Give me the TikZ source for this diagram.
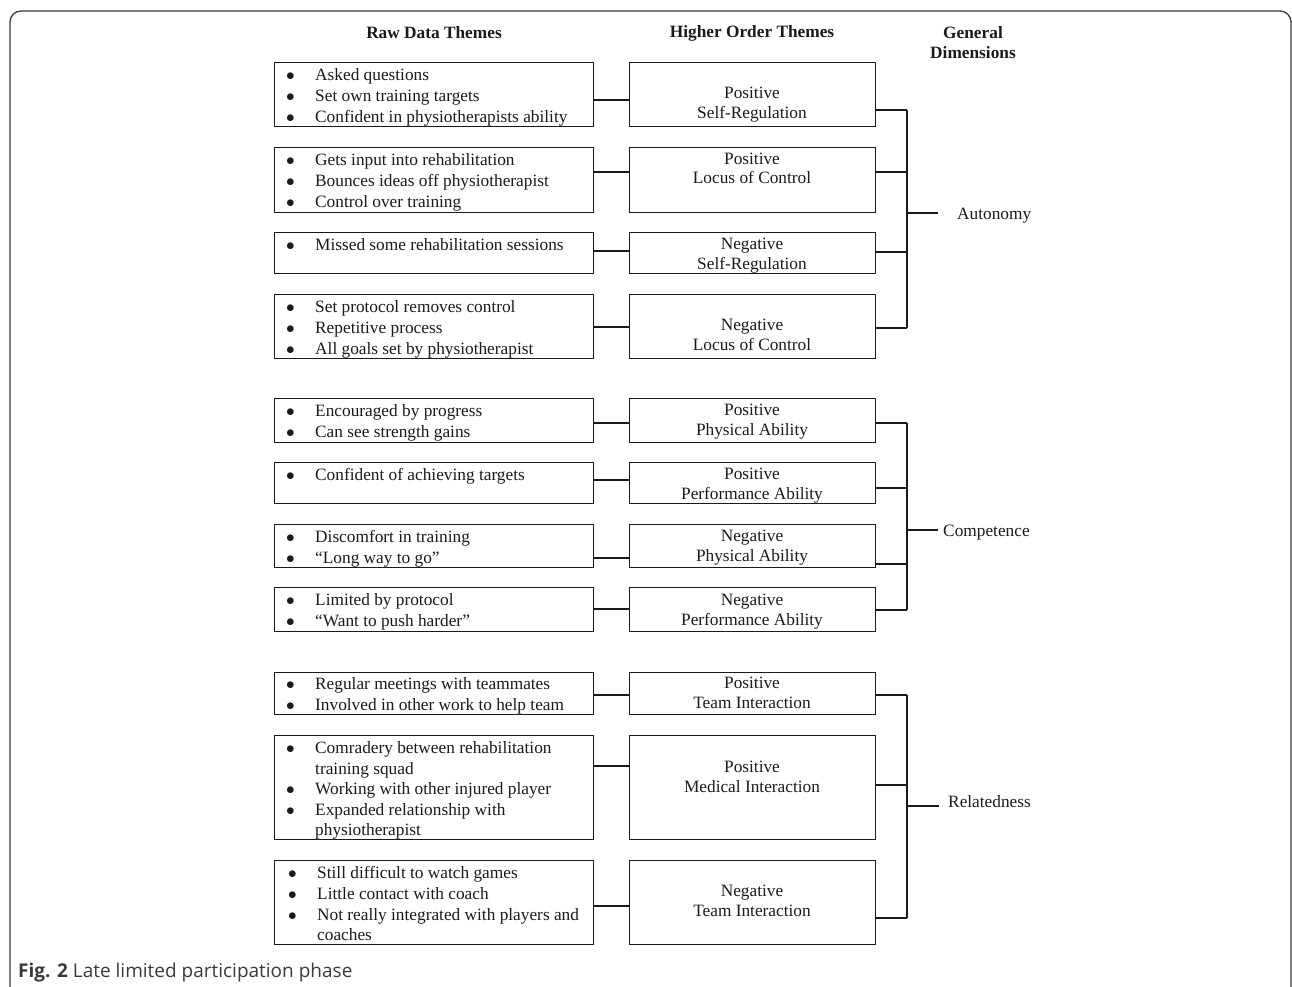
\documentclass[tikz,border=0pt]{standalone}
\usepackage{fontspec}
\setmainfont{Liberation Serif}
\newfontfamily\capfont{Open Sans}
\usepackage{tikz}
\usetikzlibrary{calc}
\definecolor{ink}{HTML}{1A1A1A}
\definecolor{framegray}{HTML}{3A3A3A}
\newcommand{\themefont}{\fontsize{17.3}{21}\selectfont}
\newcommand{\itm}{\makebox[29pt][l]{$\bullet$}}
\newcommand{\cnt}{\hspace*{29pt}}
\newcommand{\blist}[1]{\begin{tabular}{@{}l@{}}#1\end{tabular}}
\newcommand{\two}[2]{\strut#1\\#2\strut}
\tikzset{
  rawbox/.style={draw=ink, line width=0.9pt, anchor=north west, minimum width=319pt, inner sep=0pt},
  hobox/.style={draw=ink, line width=0.9pt, anchor=north west, minimum width=246pt, inner sep=0pt},
  rawtxt/.style={anchor=north west, inner sep=0pt, text=ink, font=\themefont},
  hotxt/.style={align=center, inner sep=0pt, text=ink, font=\fontsize{17.3}{20}\selectfont},
  head/.style={align=center, inner sep=0pt, text=ink, font=\fontsize{17.3}{20}\selectfont\bfseries},
  dim/.style={anchor=base west, inner sep=0pt, text=ink, font=\themefont},
  conn/.style={draw=ink, line width=1.9pt},
  spine/.style={draw=ink, line width=1.9pt},
  thinspine/.style={draw=ink, line width=1.1pt},
  frame/.style={draw=framegray, line width=1.3pt}
}

\begin{document}
\begin{tikzpicture}[x=1pt,y=-1pt]
  \useasboundingbox (0,0) rectangle (1292,987);
  \draw[frame, rounded corners=11pt] (10,1000) -- (10,11) -- (1291,11) -- (1291,1000);

  % column heads
  \node[head] (hraw) at (434,33) {Raw Data Themes};
  \node[head] (hhigh) at (752,33) {Higher Order Themes};
  \node[head] (hgen) at (973,43) {General\\Dimensions};

  % boxes
  \foreach \n/\t/\h in {1/62/64, 2/147/65, 3/232/41, 4/294/64, 5/398/44, 6/462/41,
                        7/524/43, 8/587/44, 9/672/42, 10/735/104, 11/860/84} {
    \node[rawbox, minimum height=\h pt] (r\n) at (274,\t) {};
    \node[hobox, minimum height=\h pt] (h\n) at (629,\t) {};
  }

  % raw data themes
  \node[rawtxt] (t1) at ([xshift=12pt,yshift=-4pt]r1.north west) {\blist{\itm Asked questions\\ \itm Set own training targets\\ \itm Confident in physiotherapists ability}};
  \node[rawtxt] (t2) at ([xshift=12pt,yshift=-4pt]r2.north west) {\blist{\itm Gets input into rehabilitation\\ \itm Bounces ideas off physiotherapist\\ \itm Control over training}};
  \node[rawtxt] (t3) at ([xshift=12pt,yshift=-4pt]r3.north west) {\blist{\itm Missed some rehabilitation sessions}};
  \node[rawtxt] (t4) at ([xshift=12pt,yshift=-4pt]r4.north west) {\blist{\itm Set protocol removes control\\ \itm Repetitive process\\ \itm All goals set by physiotherapist}};
  \node[rawtxt] (t5) at ([xshift=12pt,yshift=-4pt]r5.north west) {\blist{\itm Encouraged by progress\\ \itm Can see strength gains}};
  \node[rawtxt] (t6) at ([xshift=12pt,yshift=-4pt]r6.north west) {\blist{\itm Confident of achieving targets}};
  \node[rawtxt] (t7) at ([xshift=12pt,yshift=-4pt]r7.north west) {\blist{\itm Discomfort in training\\ \itm “Long way to go”}};
  \node[rawtxt] (t8) at ([xshift=12pt,yshift=-4pt]r8.north west) {\blist{\itm Limited by protocol\\ \itm “Want to push harder”}};
  \node[rawtxt] (t9) at ([xshift=12pt,yshift=-3pt]r9.north west) {\blist{\itm Regular meetings with teammates\\ \itm Involved in other work to help team}};
  \node[rawtxt, font=\fontsize{17.3}{20.5}\selectfont] (t10) at ([xshift=12pt,yshift=-4pt]r10.north west) {\blist{\itm Comradery between rehabilitation\\ \cnt training squad\\ \itm Working with other injured player\\ \itm Expanded relationship with\\ \cnt physiotherapist}};
  \node[rawtxt, font=\fontsize{17.3}{20.7}\selectfont] (t11) at ([xshift=14pt,yshift=-4pt]r11.north west) {\blist{\itm Still difficult to watch games\\ \itm Little contact with coach\\ \itm Not really integrated with players and\\ \cnt coaches}};

  % higher order themes
  \node[hotxt] (l1) at (752,105) {\two{Positive}{Self-Regulation}};
  \node[hotxt] (l2) at (752,170) {\two{Positive}{Locus of Control}};
  \node[hotxt] (l3) at (752,255) {\two{Negative}{Self-Regulation}};
  \node[hotxt] (l4) at (752,336) {\two{Negative}{Locus of Control}};
  \node[hotxt] (l5) at (752,421) {\two{Positive}{Physical Ability}};
  \node[hotxt] (l6) at (752,485) {\two{Positive}{Performance Ability}};
  \node[hotxt] (l7) at (752,547) {\two{Negative}{Physical Ability}};
  \node[hotxt] (l8) at (752,611) {\two{Negative}{Performance Ability}};
  \node[hotxt] (l9) at (752,694) {\two{Positive}{Team Interaction}};
  \node[hotxt] (l10) at (752,778) {\two{Positive}{Medical Interaction}};
  \node[hotxt] (l11) at (752,902) {\two{Negative}{Team Interaction}};

  % general dimensions
  \node[dim] (aut) at (957,219) {Autonomy};
  \node[dim] (com) at (943,536) {Competence};
  \node[dim] (rel) at (948,807) {Relatedness};

  % connectors
  \coordinate (sp) at (907,0);
  \foreach \n/\yl/\yr in {1/100/110, 2/172/172, 3/251/252, 4/327/328, 5/423/423, 6/480/488,
                          7/558/564, 8/609/610, 9/695/695, 10/766/785, 11/906/918} {
    \draw[conn] (r\n.east |- 0,\yl) -- (h\n.west |- 0,\yl);
    \draw[conn] (h\n.east |- 0,\yr) -- (sp |- 0,\yr);
  }
  \draw[thinspine] (sp |- 0,110) -- (sp |- 0,328);
  \draw[spine] (sp |- 0,423) -- (sp |- 0,610);
  \draw[spine] (sp |- 0,695) -- (sp |- 0,918);
  \coordinate (aout) at (938,213);
  \coordinate (cout) at (938,530);
  \coordinate (rout) at (939,806);
  \draw[conn] (sp |- aout) -- (aout);
  \draw[conn] (sp |- cout) -- (cout);
  \draw[conn] (sp |- rout) -- (rout);

  % caption
  \node[anchor=base west, inner sep=0pt, text=framegray] (cap) at (18,977)
    {\capfont\fontsize{19}{23}\selectfont\textbf{Fig. 2} Late limited participation phase};
\end{tikzpicture}
\end{document}
